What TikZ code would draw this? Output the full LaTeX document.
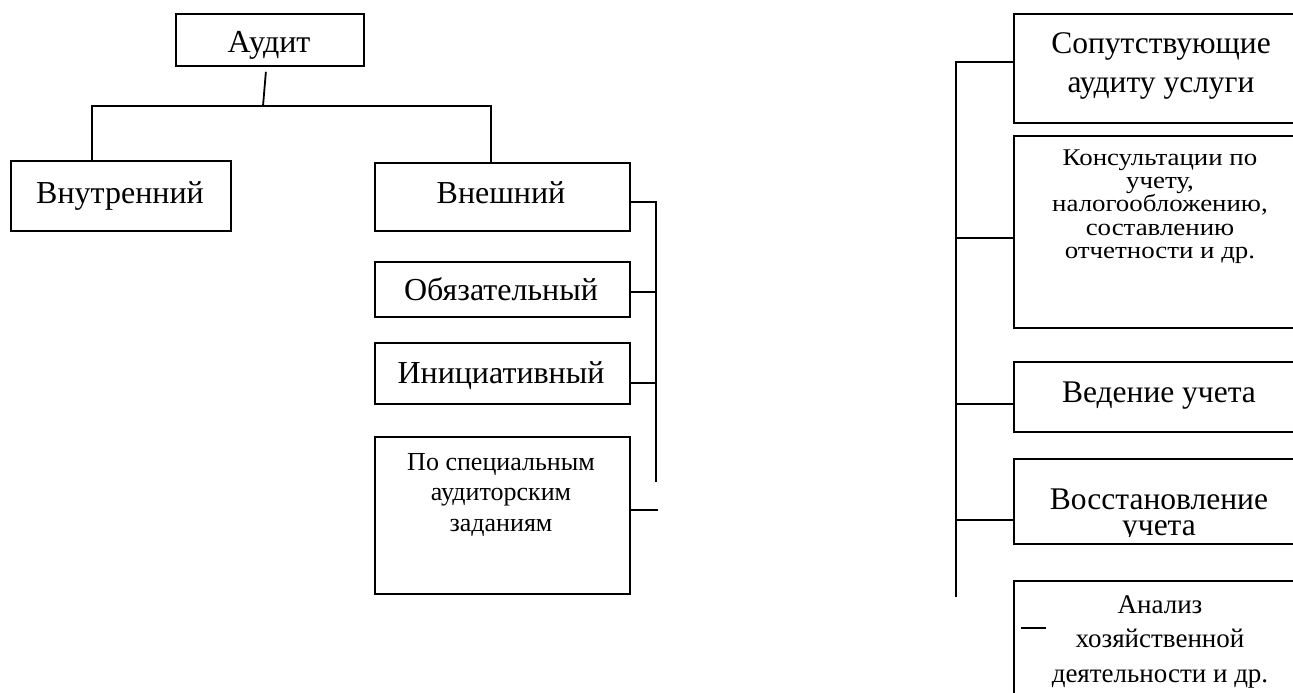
\documentclass[tikz,border=0pt]{standalone}
\usepackage{fontspec}
\setmainfont{Liberation Serif}
\newfontfamily\widefont[FakeStretch=1.12]{Liberation Serif}
\newcommand{\firstst}[1]{\rule{0pt}{#1pt}}
\newcommand{\tightls}{\lineskiplimit=-50pt\relax}
\begin{document}
\begin{tikzpicture}[x=1pt,y=-1pt,
  box/.style={draw, line width=1.8pt, inner sep=0pt, anchor=north west},
  conn/.style={line width=1.8pt},
  lbl/.style={inner sep=0pt, align=center},
  big/.style={font=\fontsize{32}{36}\selectfont},
]
\useasboundingbox (0,0) rectangle (1293,693);
\clip (0,0) rectangle (1293,693);

% ---------- left tree ----------
\node[box, minimum width=188pt, minimum height=52pt] (audit) at (175,13) {};
\node[box, minimum width=220pt, minimum height=70pt] (vnutr) at (10,160) {};
\node[box, minimum width=255pt, minimum height=68pt] (vnesh) at (374,162) {};
\node[box, minimum width=255pt, minimum height=55pt] (obyaz) at (374,261) {};
\node[box, minimum width=255pt, minimum height=61pt] (inic) at (374,342) {};
\node[box, minimum width=255pt, minimum height=157pt] (spec) at (374,436) {};

\node[lbl, big, anchor=base] (audit-t) at (269,53) {Аудит};
\node[lbl, big, anchor=base] (vnutr-t) at (120,203) {Внутренний};
\node[lbl, big, anchor=base] (vnesh-t) at (501,203) {Внешний};
\node[lbl, big, anchor=base] (obyaz-t) at (501,300) {Обязательный};
\node[lbl, big, anchor=base] (inic-t) at (501,383) {Инициативный};
\node[lbl, anchor=north, font=\fontsize{26}{30.5}\selectfont] (spec-t) at (501,450)
  {\firstst{20}По специальным\\аудиторским\\заданиям};

\coordinate (j0) at (263,106);
\draw[conn] ([shift={(-4,5)}]audit.south) -- (j0);
\draw[conn] ([xshift=82pt]vnutr.north west) |- (j0) -| ([xshift=117pt]vnesh.north west);

\coordinate (busA) at (656,201);
\coordinate (busAend) at (656,482);
\draw[conn] ([yshift=-5pt]vnesh.east) -| (busAend);
\draw[conn] ([yshift=-2.5pt]obyaz.east) -| (busA);
\draw[conn] ([yshift=-9.5pt]inic.east) -| (busA);
\draw[conn] ([yshift=5.5pt]spec.east) -- ++(27,0);

% ---------- right tree ----------
\node[box, minimum width=296pt, minimum height=109pt] (sopt) at (1013,13) {};
\node[box, minimum width=296pt, minimum height=192pt] (kons) at (1013,135) {};
\node[box, minimum width=296pt, minimum height=70pt] (vedenie) at (1013,361) {};
\node[box, minimum width=296pt, minimum height=85pt] (vosst) at (1013,458) {};
\node[box, minimum width=296pt, minimum height=130pt] (analiz) at (1013,580) {};

\node[lbl, anchor=north, font={\fontsize{31.5}{39}\selectfont}] (sopt-t) at (1161,27)
  {\firstst{26}Сопутствующие\\аудиту услуги};
\node[lbl, anchor=north, font={\widefont\fontsize{24}{23.3}\selectfont\tightls}] (kons-t) at (1160,146)
  {\firstst{19}Консультации по\\учету,\\налогообложению,\\составлению\\отчетности и др.};
\node[lbl, anchor=base, font={\fontsize{31.5}{34}\selectfont}] (vedenie-t) at (1159,402) {Ведение учета};
\begin{scope}
  \clip (1015,460) rectangle (1293,536);
  \node[lbl, anchor=north, font={\fontsize{31.5}{26}\selectfont\tightls}] (vosst-t) at (1159,484)
    {\firstst{25}Восстановление\\учета};
\end{scope}
\node[lbl, anchor=north, font={\fontsize{27}{34.5}\selectfont}] (analiz-t) at (1160,592)
  {\firstst{21}Анализ\\хозяйственной\\деятельности и др.};

\coordinate (busB) at (956,61);
\coordinate (busBend) at (956,597);
\draw[conn] ([yshift=6.5pt]sopt.west) -| (busBend);
\draw[conn] ([yshift=-6pt]kons.west) -| (busB);
\draw[conn] ([yshift=-7pt]vedenie.west) -| (busB);
\draw[conn] ([yshift=-18.5pt]vosst.west) -| (busB);
\draw[conn] ([shift={(8,48)}]analiz.north west) -- ++(25,0);
\end{tikzpicture}
\end{document}
